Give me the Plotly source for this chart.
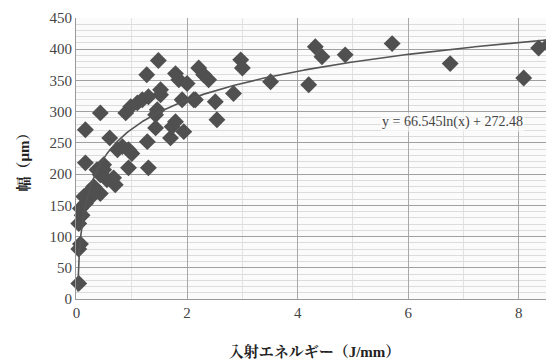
import numpy as np
import plotly.graph_objects as go

# Scatter data: incident energy (J/mm) vs width (μm)
energy = [0.04, 0.04, 0.07, 0.04, 0.10, 0.07, 0.16, 0.13, 0.22, 0.31, 0.43, 0.55,
          0.67, 0.43, 0.49, 0.37, 0.94, 1.30, 0.49, 0.16, 0.74, 1.00, 0.94, 0.83,
          1.28, 0.60, 1.70, 1.43, 1.94, 1.73, 1.79, 0.16, 1.43, 1.46, 0.43, 0.89,
          0.98, 1.10, 1.19, 1.30, 1.52, 1.52, 1.91, 2.12, 1.27, 1.79, 1.85, 2.00,
          1.48, 2.21, 2.30, 2.39, 2.97, 3.00, 3.51, 2.15, 2.51, 2.84, 2.54, 4.20,
          4.32, 4.44, 4.86, 5.71, 6.76, 8.09, 8.36, 8.54, 0.25, 0.28, 0.70]
width = [25, 80, 88, 121, 134, 145, 153, 164, 171, 180, 169, 191,
         194, 199, 207, 207, 210, 210, 215, 218, 239, 233, 239, 244,
         252, 258, 258, 274, 268, 276, 284, 271, 295, 303, 298, 298,
         308, 314, 319, 324, 327, 335, 319, 319, 359, 361, 351, 345,
         382, 370, 359, 351, 383, 370, 348, 319, 316, 329, 287, 343,
         404, 388, 391, 409, 377, 354, 402, 407, 162, 175, 183]

# Logarithmic trendline printed on the chart
coef_a = 66.545
coef_b = 272.48
trend_label = "y = 66.545ln(x) + 272.48"

x_ticks = [0, 2, 4, 6, 8]
y_ticks = [0, 50, 100, 150, 200, 250, 300, 350, 400, 450]

x_title = "<b>入射エネルギー（J/mm）</b>"
y_title = "<b>幅（μm）</b>"

trend_x = np.linspace(0.02, 8.62, 300)
trend_y = coef_a * np.log(trend_x) + coef_b

font_family = "'Liberation Serif', 'Noto Serif CJK JP', 'Noto Sans CJK JP', serif"

fig = go.Figure()
fig.add_trace(go.Scatter(
    x=energy, y=width, mode="markers",
    marker=dict(symbol="diamond", size=13, color="#505050"),
    cliponaxis=False, showlegend=False,
))
fig.add_trace(go.Scatter(
    x=trend_x, y=trend_y, mode="lines",
    line=dict(color="#555555", width=1.6),
    showlegend=False,
))
fig.add_annotation(
    x=6.8, y=283, text=trend_label, showarrow=False,
    font=dict(family=font_family, size=14, color="#444444"),
    bgcolor="rgba(255,255,255,0.6)",
)

# The page body keeps its default 8px margin, so the figure is sized to fit.
fig.update_layout(
    width=546, height=352,
    margin=dict(l=68, r=1, t=10, b=61),
    paper_bgcolor="white", plot_bgcolor="#fbfbfb",
    font=dict(family=font_family, size=15, color="#333333"),
)
fig.update_xaxes(
    range=[-0.01, 8.62], tickvals=x_ticks, ticktext=[str(v) for v in x_ticks],
    showgrid=True, gridcolor="#a8a8a8", gridwidth=1,
    minor=dict(dtick=1, showgrid=True, gridcolor="#e2e2e2"),
    showline=True, linecolor="#999999", zeroline=False, ticks="",
    automargin=False,
    title=dict(text=x_title, font=dict(size=15, color="#222222"), standoff=26),
    tickfont=dict(size=15, color="#444444"),
)
fig.update_yaxes(
    range=[0, 450], tickvals=y_ticks, ticktext=[str(v) for v in y_ticks],
    showgrid=True, gridcolor="#a0a0a0", gridwidth=1,
    minor=dict(dtick=10, showgrid=True, gridcolor="#dcdcdc"),
    showline=True, linecolor="#999999", zeroline=False, ticks="",
    automargin=False,
    title=dict(text=y_title, font=dict(size=15, color="#222222"), standoff=16),
    tickfont=dict(size=15, color="#444444"),
)

fig.write_html("out.html")
